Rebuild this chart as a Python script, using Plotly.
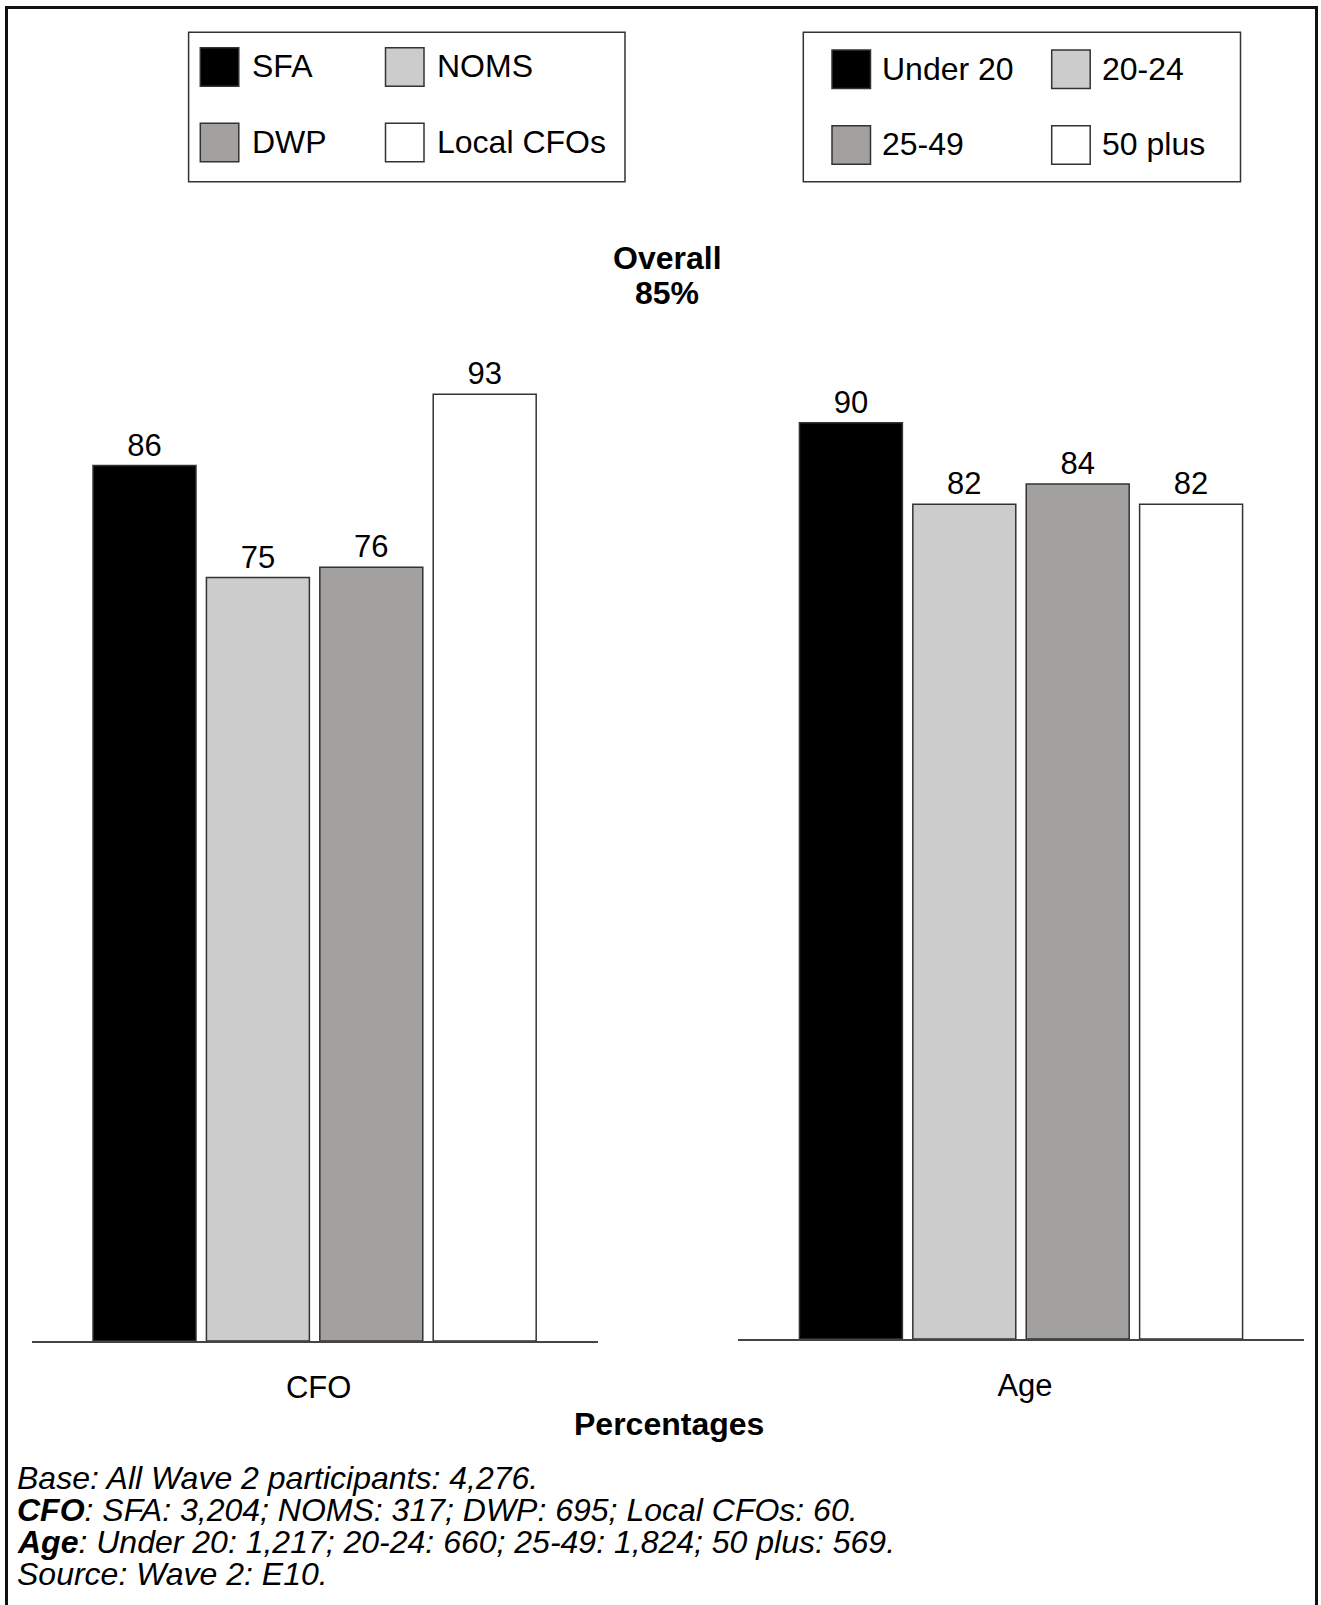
import plotly.graph_objects as go

# ---- data ---------------------------------------------------------------
cfo_groups = ["SFA", "NOMS", "DWP", "Local CFOs"]
cfo_values = [86, 75, 76, 93]
age_groups = ["Under 20", "20-24", "25-49", "50 plus"]
age_values = [90, 82, 84, 82]
panel_names = ["CFO", "Age"]
overall_pct = 85
total_base = 4276
cfo_bases = [3204, 317, 695, 60]
age_bases = [1217, 660, 1824, 569]
source_ref = "Wave 2: E10"

# ---- styling -------------------------------------------------------------
W, H = 1321, 1605
FONT = "Liberation Sans, Arial, Helvetica, sans-serif"
fills = ["#000000", "#cccccc", "#a3a19f", "#ffffff"]
EDGE = "#333333"


def px(x):
    return x / W


def py(y):
    return 1 - y / H


fig = go.Figure()

panels = [
    (cfo_groups, cfo_values, panel_names[0], "x", "y"),
    (age_groups, age_values, panel_names[1], "x2", "y2"),
]
for groups, values, panel, xa, ya in panels:
    for i, (g, v) in enumerate(zip(groups, values)):
        fig.add_trace(go.Bar(
            x=[panel], y=[v], name=g, xaxis=xa, yaxis=ya,
            marker=dict(color=fills[i], line=dict(color=EDGE, width=1.5)),
            text=[f"{v}"], textposition="outside",
            textfont=dict(family=FONT, size=31, color="#000000"),
            cliponaxis=False, showlegend=False, hoverinfo="skip",
        ))

axis_x = dict(
    type="category", range=[-0.5, 0.5], showline=True, linecolor="#444444",
    linewidth=2, ticks="", showgrid=False, zeroline=False,
    tickfont=dict(family=FONT, size=31, color="#000000"),
    ticklabelstandoff=18, ticklabelshift=4, fixedrange=True,
)
axis_y = dict(range=[0, 100], visible=False, showgrid=False, zeroline=False,
              fixedrange=True)

fig.update_layout(
    width=W, height=H,
    margin=dict(l=0, r=0, t=0, b=0),
    paper_bgcolor="#ffffff", plot_bgcolor="#ffffff",
    barmode="group", bargap=0.1986, bargroupgap=0.092,
    xaxis=dict(axis_x, domain=[px(31.6), px(597.6)], anchor="y"),
    yaxis=dict(axis_y, domain=[py(1341), py(323)], anchor="x"),
    xaxis2=dict(axis_x, domain=[px(738), px(1304)], anchor="y2"),
    yaxis2=dict(axis_y, domain=[py(1339), py(321)], anchor="x2"),
    showlegend=False,
)

shapes = []
annotations = []

# outer frame (open at the bottom)
shapes.append(dict(
    type="path", xref="paper", yref="paper",
    path=f"M {px(6.5)} {py(1620)} L {px(6.5)} {py(7.5)} "
         f"L {px(1316.5)} {py(7.5)} L {px(1316.5)} {py(1620)}",
    line=dict(color="#111111", width=3),
))

# boxed two-by-two keys for each panel
keys = [
    (cfo_groups, (188.6, 32.3, 625.0, 181.7), [200.3, 385.5], [47.7, 123.3], 49.4),
    (age_groups, (803.3, 32.3, 1240.5, 181.7), [832.0, 1051.7], [50.0, 125.7], 48.0),
]
SW = 38.5
for names, box, cols, rows, gap in keys:
    x0, y0, x1, y1 = box
    shapes.append(dict(type="rect", xref="paper", yref="paper",
                       x0=px(x0), x1=px(x1), y0=py(y1), y1=py(y0),
                       line=dict(color=EDGE, width=1.5), fillcolor="#ffffff",
                       layer="below"))
    for i, name in enumerate(names):
        cx, ry = cols[i % 2], rows[i // 2]
        shapes.append(dict(type="rect", xref="paper", yref="paper",
                           x0=px(cx), x1=px(cx + SW), y0=py(ry + SW), y1=py(ry),
                           line=dict(color=EDGE, width=1.5), fillcolor=fills[i]))
        annotations.append(dict(
            xref="paper", yref="paper", x=px(cx + gap), y=py(ry + SW / 2 - 0.5),
            xanchor="left", yanchor="middle", showarrow=False, text=name,
            font=dict(family=FONT, size=32, color="#000000"),
        ))

# overall figure
annotations.append(dict(xref="paper", yref="paper", x=px(667), y=py(258),
                        xanchor="center", yanchor="middle", showarrow=False,
                        text="<b>Overall</b>",
                        font=dict(family=FONT, size=32, color="#000000")))
annotations.append(dict(xref="paper", yref="paper", x=px(667), y=py(293),
                        xanchor="center", yanchor="middle", showarrow=False,
                        text=f"<b>{overall_pct}%</b>",
                        font=dict(family=FONT, size=32, color="#000000")))

# shared axis caption
annotations.append(dict(xref="paper", yref="paper", x=px(668.8), y=py(1424),
                        xanchor="center", yanchor="middle", showarrow=False,
                        text="<b>Percentages</b>",
                        font=dict(family=FONT, size=32, color="#000000")))


def fmt(n):
    return f"{n:,}"


notes = [
    f"<i>Base: All Wave 2 participants: {fmt(total_base)}.</i>",
    "<i><b>CFO</b>: " + "; ".join(f"{g}: {fmt(b)}" for g, b in zip(cfo_groups, cfo_bases)) + ".</i>",
    "<i><b>Age</b>: " + "; ".join(f"{g}: {fmt(b)}" for g, b in zip(age_groups, age_bases)) + ".</i>",
    f"<i>Source: {source_ref}.</i>",
]
note_y = [1477.5, 1510, 1542, 1574]
for t, yy in zip(notes, note_y):
    annotations.append(dict(xref="paper", yref="paper", x=px(15), y=py(yy),
                            xanchor="left", yanchor="middle", showarrow=False,
                            text=t, font=dict(family=FONT, size=32, color="#000000")))

fig.update_layout(shapes=shapes, annotations=annotations)
fig.write_html("out.html")
